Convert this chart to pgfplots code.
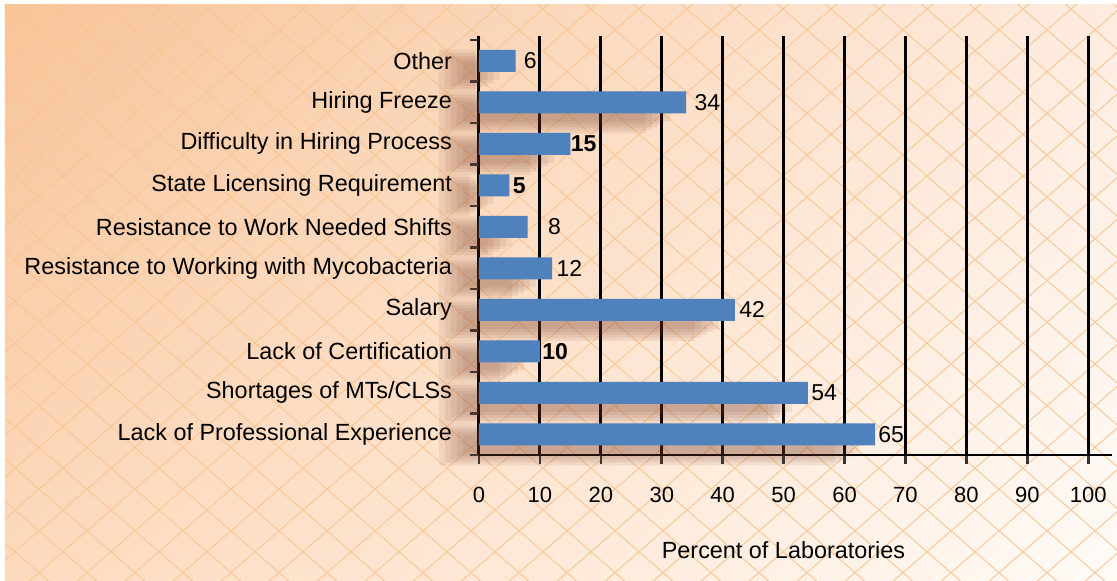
\documentclass[border=0pt]{standalone}
\usepackage{pgfplots}
\pgfplotsset{compat=1.18}
\usepackage{pgfplotstable}
\usepackage{fontspec}
\setmainfont{Liberation Sans}
\usetikzlibrary{shadings}
\definecolor{barblue}{HTML}{4F81BD}
\definecolor{lattice}{HTML}{FBC592}
\definecolor{ticgray}{HTML}{333333}
\definecolor{shadowc}{RGB}{125,65,45}
\definecolor{bgUL}{RGB}{247,196,152}
\definecolor{bgUR}{RGB}{254,236,224}
\definecolor{bgLL}{RGB}{253,218,190}
\definecolor{bgLR}{RGB}{255,251,247}

\pgfplotstableread{
y val dx lab
0 65 1.5 65
1 54 1.5 54
2 10 1 \textbf{10}
3 42 2 42
4 12 2 12
5 8 10 8
6 5 1.5 \textbf{5}
7 15 0 \textbf{15}
8 34 4 34
9 6 4 6
}\datatable

\begin{document}
\begin{tikzpicture}
% background (image px (X,Y) -> ((X-479)*0.5pt, (455-Y)*0.5pt))
\fill[white] (-239.5pt,-63pt) rectangle (319pt,227.5pt);
\shade[upper left=bgUL, upper right=bgUR, lower left=bgLL, lower right=bgLR]
  (-237pt,-63pt) rectangle (319pt,225pt);
\begin{scope}
\clip (-237pt,-63pt) rectangle (319pt,225pt);
\foreach \i in {-40,...,30}{
  \draw[lattice, line width=0.45pt] ({207.2pt+\i*24pt},-63pt) -- ++(334pt,290.5pt);
  \draw[lattice, line width=0.45pt] ({288.8pt+\i*24pt},-63pt) -- ++(-334pt,290.5pt);
}
\end{scope}
\begin{axis}[
  at={(0,0)}, anchor=south west,
  scale only axis, width=316.5pt, height=209.5pt,
  clip=false,
  xbar, bar width=11pt,
  xmin=0, xmax=103.9, ymin=-0.5, ymax=9.6,
  axis x line*=bottom, axis y line*=left,
  axis line style={line width=1.3pt, black},
  xtick={0,10,...,100},
  xmajorgrids,
  major grid style={line width=1.5pt, black},
  ytick={-0.5,0.5,...,9.5},
  yticklabels={},
  major tick length=4.5pt,
  tick align=outside,
  tick style={line width=1.3pt, ticgray},
  extra y ticks={0,1,2,3,4,5,6,7,8,9},
  extra y tick labels={Lack of Professional Experience,Shortages of MTs/CLSs,Lack of Certification,Salary,Resistance to Working with Mycobacteria,Resistance to Work Needed Shifts,State Licensing Requirement,Difficulty in Hiring Process,Hiring Freeze,Other},
  extra y tick style={major tick length=0pt, yticklabel style={font=\fontsize{11.7}{14}\selectfont, anchor=east, xshift=-10pt}},
  xticklabel style={font=\fontsize{11}{13}\selectfont, yshift=-8pt},
  /pgf/number format/assume math mode=true,
  xlabel={Percent of Laboratories},
  xlabel style={font=\fontsize{11.7}{14}\selectfont, at={(axis description cs:0.481,0)}, anchor=center, yshift=-47.5pt},
]
\addplot[forget plot, draw=none, fill=shadowc, fill opacity=0.09, bar width=21pt, xshift=-20pt, yshift=-5pt] table[x=val, y=y] {\datatable};
\addplot[forget plot, draw=none, fill=shadowc, fill opacity=0.09, bar width=18pt, xshift=-17pt, yshift=-5pt] table[x=val, y=y] {\datatable};
\addplot[forget plot, draw=none, fill=shadowc, fill opacity=0.09, bar width=15pt, xshift=-14pt, yshift=-5pt] table[x=val, y=y] {\datatable};
\addplot[forget plot, draw=none, fill=shadowc, fill opacity=0.09, bar width=12pt, xshift=-11pt, yshift=-5pt] table[x=val, y=y] {\datatable};
\addplot[forget plot, draw=none, fill=shadowc, fill opacity=0.09, bar width=9pt, xshift=-8pt, yshift=-5pt] table[x=val, y=y] {\datatable};
\addplot[draw=none, fill=barblue,
  visualization depends on={\thisrow{dx} \as \dx},
  point meta=explicit symbolic,
  nodes near coords,
  every node near coord/.append style={anchor=west, inner sep=0pt, xshift=\dx pt, font=\fontsize{11.5}{14}\selectfont, black}]
  table[x=val, y=y, meta=lab] {\datatable};
\end{axis}
\end{tikzpicture}
\end{document}
